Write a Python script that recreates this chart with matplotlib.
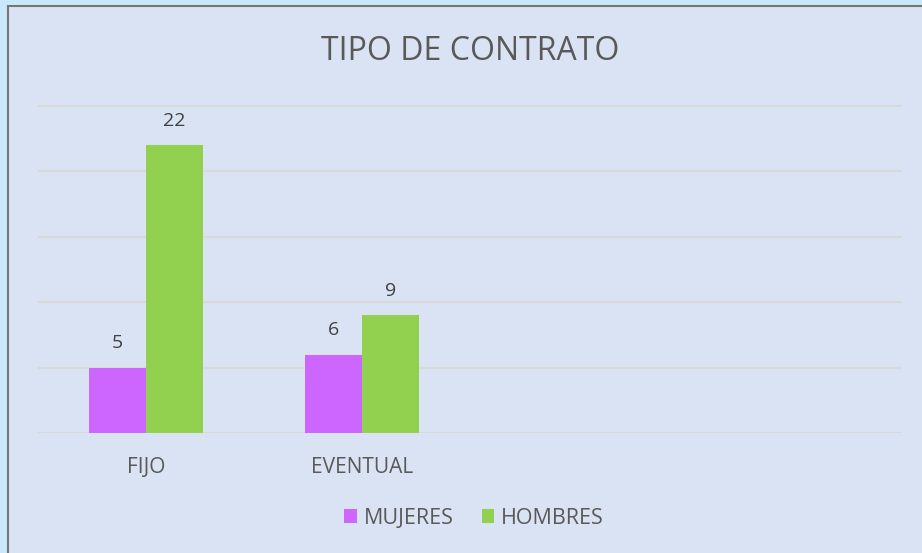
import matplotlib.pyplot as plt
import numpy as np
from matplotlib.patches import Rectangle

categories = ["FIJO", "EVENTUAL", "", ""]
mujeres = [5, 6, None, None]
hombres = [22, 9, None, None]
series_names = ["MUJERES", "HOMBRES"]
y_ticks = [0, 5, 10, 15, 20, 25]

plt.rcParams["font.family"] = ["Open Sans", "DejaVu Sans"]

fig = plt.figure(figsize=(9.22, 5.53), dpi=100)
fig.patch.set_facecolor("#C9E9FB")
# chart area with grey border, runs off the right and bottom edges
fig.patches.append(Rectangle((8 / 922, -0.05), 1.2, 1 - 6 / 553 + 0.05,
                             transform=fig.transFigure, facecolor="#DAE3F3",
                             edgecolor="#767676", linewidth=1.5, zorder=-5))

ax = fig.add_axes([38 / 922, 1 - 433 / 553, 864 / 922, 328 / 553])
ax.set_zorder(2)
ax.set_facecolor("none")

x = np.arange(len(categories))
w = 0.264
m_vals = [v if v is not None else 0 for v in mujeres]
h_vals = [v if v is not None else 0 for v in hombres]
b1 = ax.bar(x - w / 2, m_vals, w, color="#CC66FF", label=series_names[0], zorder=3)
b2 = ax.bar(x + w / 2, h_vals, w, color="#92D050", label=series_names[1], zorder=3)

for bars, vals in ((b1, mujeres), (b2, hombres)):
    for rect, v in zip(bars, vals):
        if v is None:
            continue
        ax.annotate(str(v), (rect.get_x() + rect.get_width() / 2, v),
                    textcoords="offset points", xytext=(0, 11), ha="center",
                    va="bottom", fontsize=14, color="#404040")

ax.set_xlim(-0.5, len(categories) - 0.5)
ax.set_ylim(0, 25.08)
ax.set_yticks(y_ticks)
ax.set_yticklabels([])
ax.tick_params(axis="y", length=0)
ax.grid(axis="y", color="#D9D9D9", linewidth=1.5, zorder=0)
ax.set_xticks(x)
ax.set_xticklabels(categories, fontsize=15, color="#595959")
ax.tick_params(axis="x", length=0, pad=17)
for s in ax.spines.values():
    s.set_visible(False)

fig.text(470 / 922, 1 - 51 / 553, "TIPO DE CONTRATO", ha="center", va="center",
         fontsize=23, color="#595959")

fig.legend(loc="center", bbox_to_anchor=(474 / 922, 1 - 518 / 553), ncol=2,
           frameon=False, fontsize=15.5, handlelength=0.6, handleheight=0.6,
           handletextpad=0.3, columnspacing=1.3, labelcolor="#595959")

fig.savefig("out.png", dpi=100, facecolor=fig.get_facecolor())
